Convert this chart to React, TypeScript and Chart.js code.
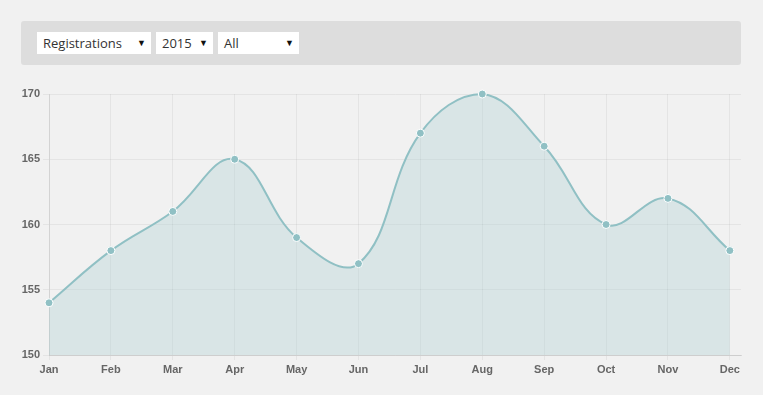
import React, { useEffect, useRef } from "react";
import { Chart, registerables } from "chart.js";

Chart.register(...registerables);

const months = ["Jan", "Feb", "Mar", "Apr", "May", "Jun", "Jul", "Aug", "Sep", "Oct", "Nov", "Dec"];
const registrations = [154, 158, 161, 165, 159, 157, 167, 170, 166, 160, 162, 158];
const yTicks = [150, 155, 160, 165, 170];
const selectors = [
  { label: "Registrations", left: 37, width: 114 },
  { label: "2015", left: 156, width: 57 },
  { label: "All", left: 218, width: 81 },
];

export default function App() {
  const canvasRef = useRef<HTMLCanvasElement | null>(null);

  useEffect(() => {
    document.body.style.margin = "0";
    document.body.style.background = "#f1f1f1";
    const ctx = canvasRef.current!.getContext("2d")!;
    const points = registrations.map((v, i) => ({ x: i, y: v }));
    const chart = new Chart(ctx, {
      type: "line",
      data: {
        datasets: [
          {
            data: points,
            borderColor: "rgb(144,192,196)",
            backgroundColor: "rgba(144,192,196,0.24)",
            fill: "origin",
            tension: 0.4,
            borderWidth: 2,
            pointRadius: 4,
            pointBackgroundColor: "rgb(144,192,196)",
            pointBorderColor: "#ffffff",
            pointBorderWidth: 1,
            clip: false,
          } as any,
        ],
      },
      options: {
        animation: false,
        responsive: false,
        maintainAspectRatio: false,
        layout: { padding: { left: 19, right: 22, top: 23, bottom: 10 } },
        plugins: { legend: { display: false }, tooltip: { enabled: false } },
        scales: {
          x: {
            type: "linear",
            min: 0,
            max: 11.18,
            afterBuildTicks: (s: any) => {
              s.ticks = months.map((_, i) => ({ value: i }));
            },
            afterFit: (s: any) => {
              s.height = 30;
            },
            ticks: {
              autoSkip: false,
              maxRotation: 0,
              padding: 3,
              color: "#666",
              font: { family: "'Liberation Sans', Arial", size: 11, weight: "bold" },
              callback: (v: any) => months[Math.round(Number(v))] ?? "",
            },
            grid: { color: "rgba(0,0,0,0.05)", tickLength: 5 },
            border: { color: "rgba(0,0,0,0.1)" },
          },
          y: {
            min: 150,
            max: 170,
            afterBuildTicks: (s: any) => {
              s.ticks = yTicks.map((v) => ({ value: v }));
            },
            afterFit: (s: any) => {
              s.width = 30;
            },
            ticks: {
              padding: 3,
              color: "#666",
              font: { family: "'Liberation Sans', Arial", size: 11, weight: "bold" },
            },
            grid: { color: "rgba(0,0,0,0.05)", tickLength: 6 },
            border: { color: "rgba(0,0,0,0.08)" },
          },
        },
      },
    });
    return () => chart.destroy();
  }, []);

  return (
    <div style={{ position: "relative", width: 763, height: 395, background: "#f1f1f1", overflow: "hidden" }}>
      <div
        style={{
          position: "absolute",
          left: 21,
          top: 21,
          width: 720,
          height: 44,
          background: "#dddddd",
          borderRadius: 3,
        }}
      />
      {selectors.map((s) => (
        <div
          key={s.label}
          style={{
            position: "absolute",
            left: s.left,
            top: 32,
            width: s.width,
            height: 22,
            background: "#ffffff",
            fontFamily: "'Open Sans', sans-serif",
            fontSize: 13,
            lineHeight: "22px",
            color: "#333",
            boxSizing: "border-box",
            paddingLeft: 6,
          }}
        >
          {s.label}
          <span
            style={{
              position: "absolute",
              right: 5,
              top: 0,
              fontSize: 9,
              color: "#111",
              lineHeight: "22px",
            }}
          >
            ▼
          </span>
        </div>
      ))}
      <canvas
        ref={canvasRef}
        width={763}
        height={324}
        style={{ position: "absolute", left: 0, top: 71, width: 763, height: 324 }}
      />
    </div>
  );
}
